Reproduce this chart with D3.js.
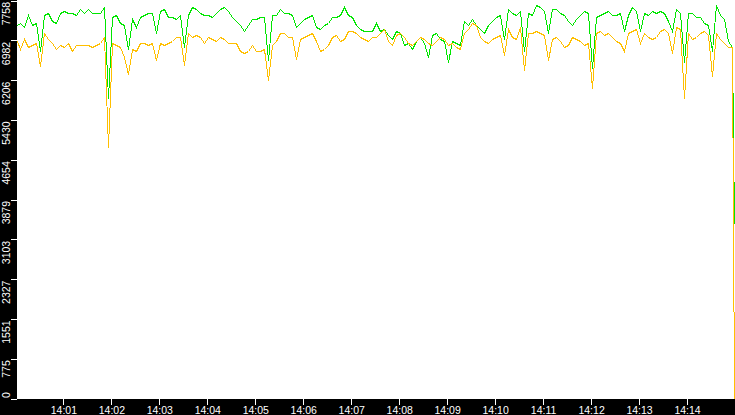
<!DOCTYPE html>
<html>
<head>
<meta charset="utf-8">
<script src="https://cdn.jsdelivr.net/npm/d3@7/dist/d3.min.js"></script>
<style>
  html, body { margin: 0; padding: 0; background: #fff; overflow: hidden; }
  svg { display: block; }
</style>
</head>
<body>
<script>
// sampling of the series (one reading every 5 seconds, last reading is the drop at the end)
const startTime = new Date(2020, 0, 1, 14, 0, 2);
const endTime = new Date(2020, 0, 1, 14, 15, 0);
const dropTime = new Date(2020, 0, 1, 14, 14, 59);
const stepSeconds = 5;

const greenValues = [
  7271,7329,7232,7466,7271,7329,6783,7466,7524,7368,7329,7524,7563,7505,7524,7485,7583,7524,7602,7524,7505,7524,7622,5867,7446,7466,7329,7271,6822,7407,
  7232,7446,7466,7524,7524,7115,7563,7602,7446,7427,7407,7485,6842,7485,7622,7602,7505,7485,7466,7446,7524,7602,7622,7544,7446,7349,7271,7173,7271,7407,
  7407,7427,7446,6589,7466,7485,7602,7524,7505,7485,7232,7329,7407,7446,7466,7251,7212,7271,7329,7427,7446,7466,7622,7485,7446,7290,7212,7173,7154,7173,
  7329,7173,7212,7095,7017,7173,7115,6881,6939,6822,6978,7056,6939,6647,7076,7115,7017,6978,6550,6978,6939,6900,7368,7290,7407,7271,7212,7134,7271,7368,
  7446,7485,7017,7602,7524,7485,7563,6783,7524,7485,7661,7622,7563,7115,7602,7583,7524,7485,7368,7290,7407,7466,7563,7524,6433,7446,7485,7524,7563,7485,
  7485,7505,7173,7466,7622,7563,7173,7524,7485,7544,7524,7563,7524,7368,7173,7602,7524,6550,7524,7505,7427,7446,7329,7290,6783,7661,7485,7407,6978,6842,
  3392
];

const orangeValues = [
  6978,6822,7017,6842,6881,6939,6472,7115,7017,6920,6822,6881,6861,6939,6783,6900,6900,6881,6881,6861,6900,6939,7037,4893,6939,6900,6842,6647,6335,6803,
  6783,6920,6939,6900,6939,6589,6939,6881,6920,6959,7037,7037,6491,7115,7037,7095,7037,6939,7037,7017,6978,7037,7017,6939,6920,6920,6783,6725,6783,6881,
  6783,6783,6822,6199,6881,6959,7115,7134,7056,7037,6627,7017,7037,7076,7115,6978,6783,6822,6881,7037,7095,6978,7017,7173,7154,7115,7056,7017,6978,7037,
  7056,7115,7212,6978,6881,7095,7134,7056,6939,6900,6978,7037,7017,6939,6881,6978,7056,7017,6900,6939,6861,6822,7115,7212,7329,7271,7056,6978,6939,7017,
  7056,7095,6686,7212,7056,7017,7232,6394,7115,7134,7173,7134,7095,6589,7017,7056,6978,6861,6900,7056,7017,6978,6900,6939,6062,7134,7173,7095,7134,7037,
  6978,6939,6783,7134,7173,7212,6920,7115,7056,7017,7056,7173,7212,7134,6744,7232,7212,5867,7134,7017,7056,7134,7173,7095,6296,7115,7017,6939,6842,6842,
  0
];

const yMax = 7758;
const yTickLabels = ["0","775","1551","2327","3103","3879","4654","5430","6206","6982","7758"];

const width = 735;
const height = 415;
const margin = { top: 0, right: 0, bottom: 16, left: 17 };
const plotBottom = height - margin.bottom; // 399

const svg = d3.select("body")
  .append("svg")
  .attr("width", width)
  .attr("height", height);

// scales
const x = d3.scaleTime().domain([startTime, endTime]).range([margin.left, width - margin.right]);
const y = d3.scaleLinear().domain([0, yMax]).range([plotBottom - 0.5, 0.5]);

// black axis strips
svg.append("rect").attr("x", 0).attr("y", 0).attr("width", margin.left).attr("height", plotBottom).attr("fill", "#000");
svg.append("rect").attr("x", 0).attr("y", plotBottom).attr("width", width).attr("height", margin.bottom).attr("fill", "#000");

const times = greenValues.map((d, i) =>
  i === greenValues.length - 1 ? dropTime : new Date(startTime.getTime() + i * stepSeconds * 1000));

// last point is pulled onto the final pixel column so the drop is a straight vertical
const line = d3.line()
  .x((d, i) => Math.min(Math.floor(x(times[i])), width - 1) + 0.5)
  .y(d => Math.round(y(d)) + 0.5);

const g = svg.append("g");

g.append("path")
  .datum(greenValues)
  .attr("fill", "none")
  .attr("stroke", "#00e600")
  .attr("stroke-width", 1)
  .attr("shape-rendering", "crispEdges")
  .attr("d", line);

g.append("path")
  .datum(orangeValues)
  .attr("fill", "none")
  .attr("stroke", "#ffbf00")
  .attr("stroke-width", 1)
  .attr("shape-rendering", "crispEdges")
  .attr("d", line);

// y axis
const yTicks = yTickLabels.map((d, i) => yMax * i / 10);
const yaxis = d3.axisLeft(y)
  .tickValues(yTicks)
  .tickSize(6)
  .tickFormat((d, i) => yTickLabels[i]);

const g_yaxis = svg.append("g")
  .attr("transform", `translate(${margin.left},0)`)
  .attr("color", "#fff")
  .call(yaxis);
g_yaxis.select(".domain").remove();
g_yaxis.selectAll("line").attr("shape-rendering", "crispEdges");
g_yaxis.selectAll("text")
  .attr("font-family", "'Liberation Sans', Arial, sans-serif")
  .attr("font-size", 10.5)
  .attr("fill", "#fff")
  .attr("transform", "rotate(-90)")
  .attr("text-anchor", (d, i) => i === 0 ? "start" : "end")
  .attr("x", (d, i) => i === 0 ? 1 : -1)
  .attr("y", -7)
  .attr("dy", 0);

// x axis, one tick per minute (14:01 .. 14:14)
const xaxis = d3.axisBottom(x)
  .tickValues(d3.timeMinute.range(d3.timeMinute.ceil(startTime), endTime))
  .tickSize(6)
  .tickFormat(d3.timeFormat("%H:%M"));

const g_xaxis = svg.append("g")
  .attr("transform", `translate(0,${plotBottom})`)
  .attr("color", "#fff")
  .call(xaxis);
g_xaxis.select(".domain").remove();
g_xaxis.selectAll("line").attr("shape-rendering", "crispEdges");
g_xaxis.selectAll("text")
  .attr("font-family", "'Liberation Sans', Arial, sans-serif")
  .attr("font-size", 10.5)
  .attr("fill", "#fff")
  .attr("y", 8)
  .attr("dy", "0.71em");
</script>
</body>
</html>
